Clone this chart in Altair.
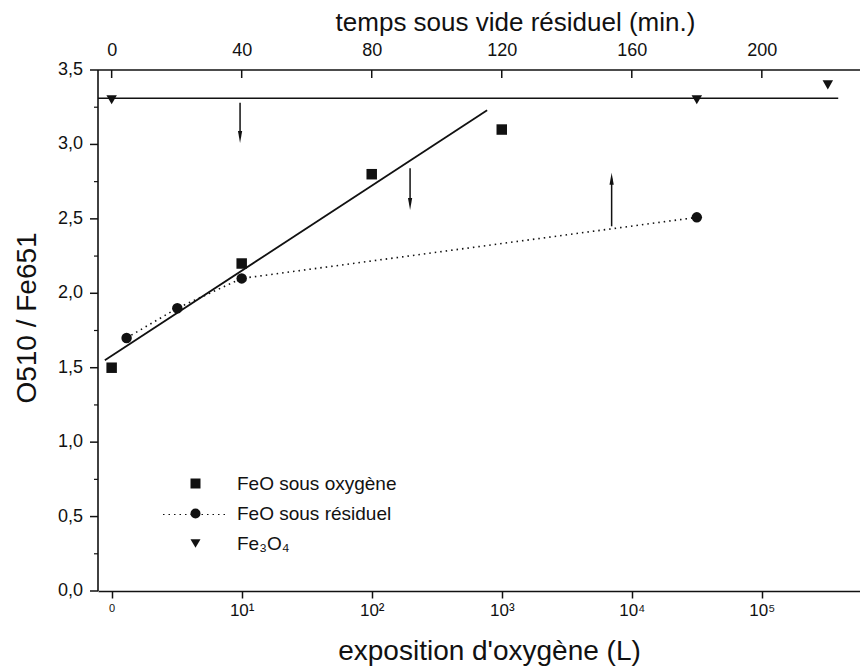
import altair as alt
import pandas as pd

FONT = "Liberation Sans"
INK = "#111111"

SERIES = ["FeO sous oxygène", "FeO sous résiduel", "Fe₃O₄"]
SHAPES = ["square", "circle", "triangle-down"]

# x values are expressed on the top (time, min.) scale
SQ_X = [0, 40, 80, 120]
SQ_Y = [1.50, 2.20, 2.80, 3.10]

CI_X = [4.6, 20.2, 40, 180]
CI_Y = [1.70, 1.90, 2.10, 2.51]

TR_X = [0, 180, 220.3]
TR_Y = [3.30, 3.30, 3.40]

FIT_X = [-2.1, 115.5]
FIT_Y = [1.55, 3.23]

HLINE_X = [-4.2, 223.5]
HLINE_Y = [3.31, 3.31]

ARROW_X = [39.5, 91.8, 153.8]
ARROW_FROM = [3.28, 2.84, 2.45]
ARROW_TO = [3.05, 2.60, 2.77]
ARROW_DIR = ["down", "down", "up"]

TOP_TICKS = [0, 40, 80, 120, 160, 200]
BOTTOM_TICKS = [0, 40, 80, 120, 160, 200]
BOTTOM_LABELS = ["0", "10¹", "10²", "10³", "10⁴", "10⁵"]
Y_TICKS = [0, 0.5, 1.0, 1.5, 2.0, 2.5, 3.0, 3.5]
Y_LABELS = ["0,0", "0,5", "1,0", "1,5", "2,0", "2,5", "3,0", "3,5"]
Y_MINOR = [0.25, 0.75, 1.25, 1.75, 2.25, 2.75, 3.25]
Y_TITLE = "O510 / Fe651"

X_DOMAIN = [-4.2, 230.2]
Y_DOMAIN = [0, 3.5]

W, H = 762, 521

xscale = alt.Scale(domain=X_DOMAIN, nice=False, zero=False)
yscale = alt.Scale(domain=Y_DOMAIN, nice=False, zero=False)


def label_expr(values, labels):
    expr = "''"
    for v, lab in reversed(list(zip(values, labels))):
        expr = f"abs(datum.value - {v}) < 0.000001 ? '{lab}' : ({expr})"
    return expr


bottom_axis = alt.Axis(
    orient="bottom", values=BOTTOM_TICKS, labelExpr=label_expr(BOTTOM_TICKS, BOTTOM_LABELS),
    grid=False, tickSize=7, tickWidth=1.5, tickColor=INK, domainColor=INK, domainWidth=1.5,
    labelFont=FONT, labelColor=INK, labelPadding=4,
    labelFontSize={"condition": {"test": "datum.value == 0", "value": 11}, "value": 17},
    title="exposition d'oxygène (L)", titleFont=FONT, titleFontSize=28,
    titleFontWeight="normal", titleColor=INK, titleX=391, titleY=68,
    titleAlign="center", titleBaseline="alphabetic",
)

top_axis = alt.Axis(
    orient="top", values=TOP_TICKS, format="d", grid=False, ticks=False, domain=False,
    labelFont=FONT, labelFontSize=18, labelColor=INK, labelPadding=11,
    title="temps sous vide résiduel (min.)", titleFont=FONT, titleFontSize=26,
    titleFontWeight="normal", titleColor=INK, titleX=417, titleY=-40,
    titleAlign="center", titleBaseline="alphabetic",
)

hline_df = pd.DataFrame({"x": HLINE_X, "y": HLINE_Y})
fit_df = pd.DataFrame({"x": FIT_X, "y": FIT_Y})
ci_df = pd.DataFrame({"x": CI_X, "y": CI_Y})
top_df = pd.DataFrame({"t": TOP_TICKS})
ytick_df = pd.DataFrame({"v": Y_TICKS, "lab": Y_LABELS})
minor_df = pd.DataFrame({"v": Y_MINOR})
arrow_df = pd.DataFrame({"x": ARROW_X, "y0": ARROW_FROM, "y1": ARROW_TO, "dir": ARROW_DIR})
one = pd.DataFrame({"k": [0]})

pts_df = pd.concat([
    pd.DataFrame({"x": SQ_X, "y": SQ_Y, "series": SERIES[0]}),
    pd.DataFrame({"x": CI_X, "y": CI_Y, "series": SERIES[1]}),
    pd.DataFrame({"x": TR_X, "y": TR_Y, "series": SERIES[2]}),
], ignore_index=True)

# ---- left axis, drawn from the y scale ----
y_domain_line = alt.Chart(one).mark_rule(color=INK, strokeWidth=1.6).encode(
    x=alt.value(0),
    y=alt.Y(datum=Y_DOMAIN[0], scale=yscale, axis=None),
    y2=alt.Y2(datum=Y_DOMAIN[1]),
)
y_major = alt.Chart(ytick_df).mark_rule(color=INK, strokeWidth=1.5).encode(
    y=alt.Y("v:Q", scale=yscale, axis=None),
    x=alt.value(-8), x2=alt.value(0),
)
y_minor = alt.Chart(minor_df).mark_rule(color=INK, strokeWidth=1.2).encode(
    y=alt.Y("v:Q", scale=yscale, axis=None),
    x=alt.value(-4), x2=alt.value(0),
)
y_labels = alt.Chart(ytick_df).mark_text(
    align="right", baseline="middle", dx=-15, font=FONT, fontSize=18, color=INK
).encode(
    y=alt.Y("v:Q", scale=yscale, axis=None),
    x=alt.value(0),
    text="lab:N",
)
y_title = alt.Chart(pd.DataFrame({"t": [Y_TITLE]})).mark_text(
    angle=270, align="center", baseline="alphabetic", font=FONT, fontSize=28,
    fontWeight="normal", color=INK
).encode(x=alt.value(-62), y=alt.value(248), text="t:N")

# ---- top axis line and inward ticks ----
top_line = alt.Chart(one).mark_rule(color=INK, strokeWidth=1.6).encode(
    x=alt.X(datum=X_DOMAIN[0], scale=xscale, axis=None),
    x2=alt.X2(datum=X_DOMAIN[1]),
    y=alt.value(0),
)
top_ticks = alt.Chart(top_df).mark_rule(color=INK, strokeWidth=1.5).encode(
    x=alt.X("t:Q", scale=xscale, axis=top_axis),
    y=alt.value(0), y2=alt.value(8),
)

hline = alt.Chart(hline_df).mark_line(color=INK, strokeWidth=1.6).encode(
    x=alt.X("x:Q", scale=xscale, axis=bottom_axis),
    y=alt.Y("y:Q", scale=yscale, axis=None),
)

fit = alt.Chart(fit_df).mark_line(color=INK, strokeWidth=1.8).encode(
    x=alt.X("x:Q", scale=xscale, axis=None),
    y=alt.Y("y:Q", scale=yscale, axis=None),
)

dotted = alt.Chart(ci_df).mark_line(color=INK, strokeWidth=1.6, strokeDash=[1.5, 4]).encode(
    x=alt.X("x:Q", scale=xscale, axis=None),
    y=alt.Y("y:Q", scale=yscale, axis=None),
)

arrows = alt.Chart(arrow_df).mark_rule(color=INK, strokeWidth=1.5).encode(
    x=alt.X("x:Q", scale=xscale, axis=None),
    y=alt.Y("y0:Q", scale=yscale, axis=None),
    y2="y1:Q",
)

head_down = alt.Chart(arrow_df).transform_filter("datum.dir == 'down'").mark_point(
    filled=True, color=INK, opacity=1, size=144, shape="M-0.35,-1L0.35,-1L0,1Z"
).encode(
    x=alt.X("x:Q", scale=xscale, axis=None),
    y=alt.Y("y1:Q", scale=yscale, axis=None),
)

head_up = alt.Chart(arrow_df).transform_filter("datum.dir == 'up'").mark_point(
    filled=True, color=INK, opacity=1, size=144, shape="M-0.35,1L0.35,1L0,-1Z"
).encode(
    x=alt.X("x:Q", scale=xscale, axis=None),
    y=alt.Y("y1:Q", scale=yscale, axis=None),
)

points = alt.Chart(pts_df).mark_point(filled=True, color=INK, opacity=1, size=110).encode(
    x=alt.X("x:Q", scale=xscale, axis=None),
    y=alt.Y("y:Q", scale=yscale, axis=None),
    shape=alt.Shape(
        "series:N",
        scale=alt.Scale(domain=SERIES, range=SHAPES),
        legend=alt.Legend(
            orient="none", legendX=88, legendY=404, title=None, padding=0,
            labelFont=FONT, labelFontSize=19, labelColor=INK, labelOffset=32,
            symbolSize=100, symbolFillColor=INK, symbolStrokeColor=INK,
            rowPadding=10,
        ),
    ),
)

legend_line = alt.Chart(one).mark_rule(
    color=INK, strokeWidth=1.2, strokeDash=[1.5, 4]
).encode(x=alt.value(65), x2=alt.value(128), y=alt.value(444.5))

chart = alt.layer(
    y_domain_line, y_major, y_minor, y_labels, y_title, top_line, top_ticks,
    hline, fit, dotted, arrows, head_down, head_up, points, legend_line,
).resolve_axis(x="independent").properties(
    width=W, height=H,
    autosize=alt.AutoSizeParams(type="none"),
    padding={"left": 90, "top": 62, "right": 0, "bottom": 76},
).configure(background="white", font=FONT).configure_view(stroke=None)

chart.save("out.html", embed_options={"renderer": "svg", "actions": False})
